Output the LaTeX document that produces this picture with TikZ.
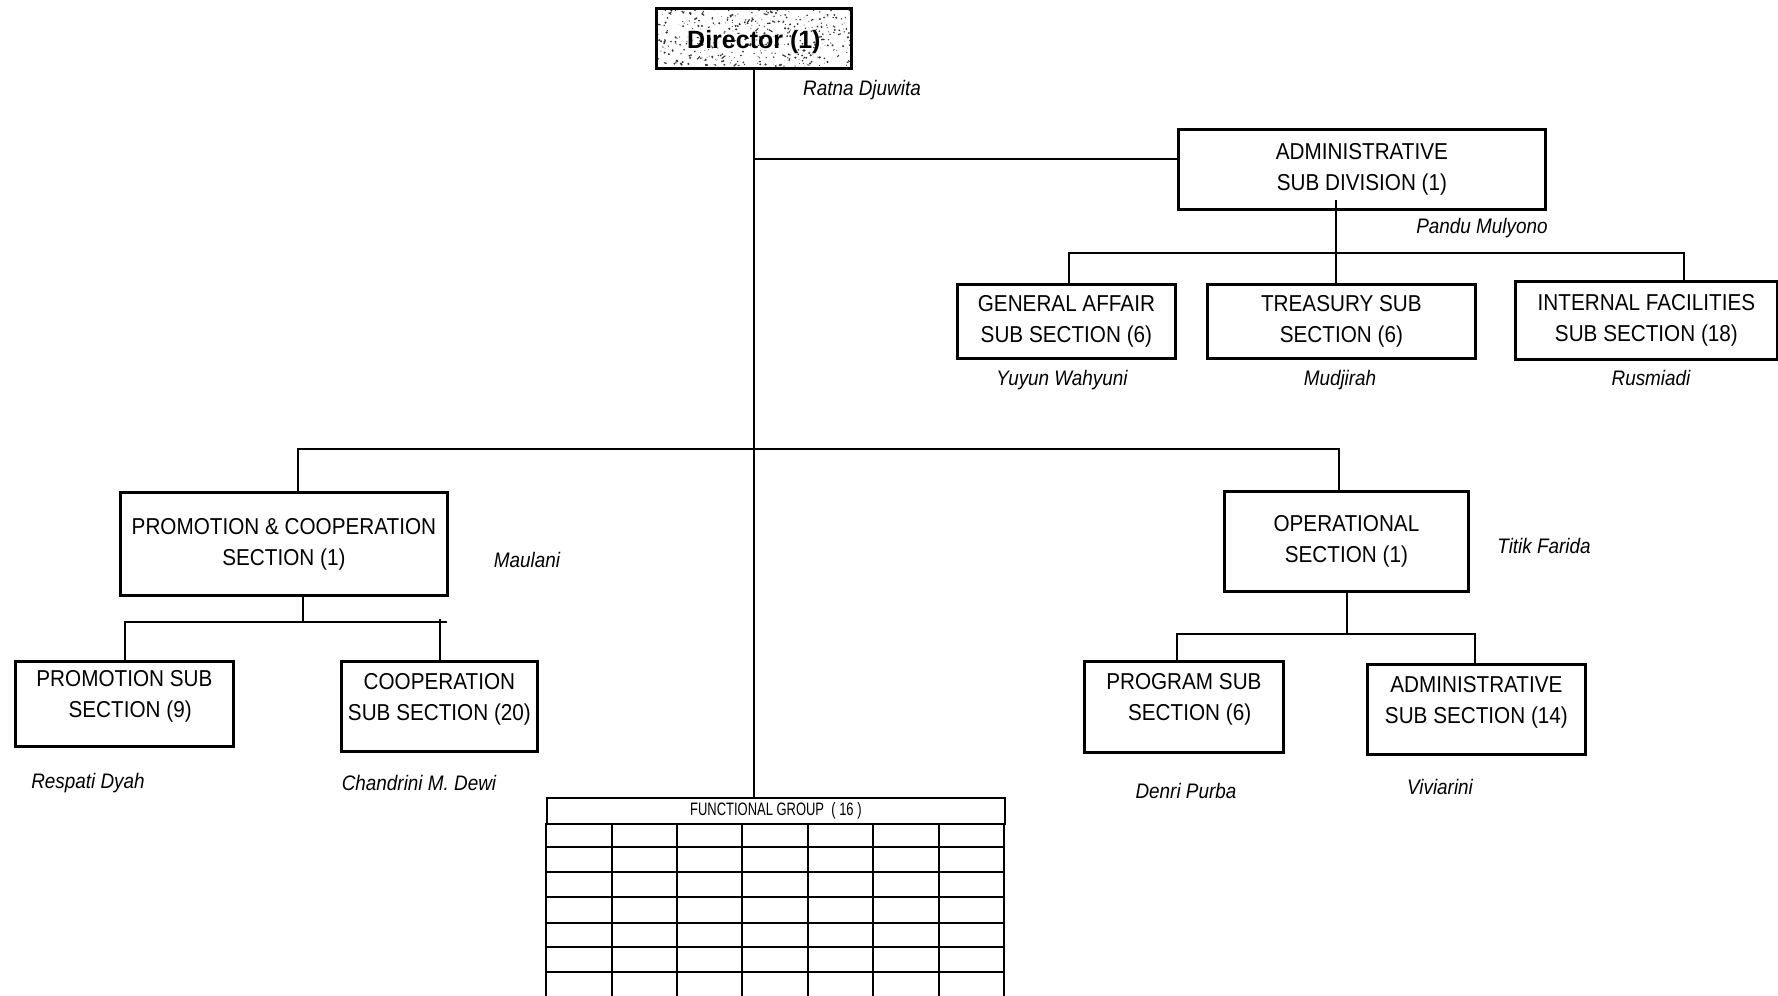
\documentclass[tikz,border=0pt]{standalone}
\usepackage{fontspec}
\setmainfont{Liberation Sans}[FakeStretch=0.9]
\newfontfamily\dirfont{Liberation Sans}
\newfontfamily\fgfont{Liberation Sans}[FakeStretch=0.72]
\usetikzlibrary{calc}
\begin{document}
\begin{tikzpicture}[x=1pt,y=-1pt,
  box/.style={draw, line width=2.8pt, anchor=north west, align=center, inner sep=1pt,
    font=\fontsize{23}{31}\selectfont},
  hibox/.style={box, text depth=19pt},
  person/.style={font=\fontsize{21}{24}\selectfont\itshape, inner sep=0pt},
  conn/.style={line width=2pt},
  grid/.style={line width=1.8pt}]
\useasboundingbox (0,0) rectangle (1778,996);
\fill[white] (0,0) rectangle (1778,996);
\clip (0,0) rectangle (1778,996);

% Director box with speckled fill
\begin{scope}
\clip (655,7) rectangle (850,67);
\pgfmathsetseed{12}
\foreach \i in {1,...,380}{
  \pgfmathsetmacro\xx{655+195*rnd}
  \pgfmathsetmacro\yy{7+60*rnd}
  \pgfmathsetmacro\rr{0.3+0.9*rnd}
  \fill[black!80] (\xx,\yy) circle (\rr);
}
\foreach \i in {1,...,40}{
  \pgfmathsetmacro\xx{655+195*rnd}
  \pgfmathsetmacro\yy{7+60*rnd}
  \pgfmathsetmacro\dx{-4+8*rnd}
  \pgfmathsetmacro\dy{-3+6*rnd}
  \draw[black!80, line width=1.1pt] (\xx,\yy) -- ++(\dx,\dy);
}
\end{scope}
\node[box, minimum width=195, minimum height=60, text height=26pt, font=\dirfont\bfseries\fontsize{25}{28}\selectfont] (dir) at (655,7) {Director (1)};
\node[person] (ratna) at (862,90) {Ratna Djuwita};

% Administrative sub division
\node[box, minimum width=367, minimum height=80] (adm) at (1177,128) {ADMINISTRATIVE\\SUB DIVISION (1)};
\node[person] (pandu) at (1482,228) {Pandu Mulyono};
\node[box, minimum width=218, minimum height=74] (ga) at (956,283) {GENERAL AFFAIR\\SUB SECTION (6)};
\node[box, minimum width=268, minimum height=74] (tr) at (1206,283) {TREASURY SUB\\SECTION (6)};
\node[box, minimum width=262, minimum height=78] (inf) at (1514,280) {INTERNAL FACILITIES\\SUB SECTION (18)};
\node[person] (yuyun) at (1062,380) {Yuyun Wahyuni};
\node[person] (mudj) at (1340,380) {Mudjirah};
\node[person] (rusm) at (1651,378) {Rusmiadi};

% Promotion & cooperation
\node[box, minimum width=327, minimum height=103] (pc) at (119,491) {PROMOTION \& COOPERATION\\SECTION (1)};
\node[person] (maul) at (527,560) {Maulani};
\node[hibox, minimum width=218, minimum height=85] (ps) at (14,660) {PROMOTION SUB\\\ \ SECTION (9)};
\node[hibox, minimum width=196, minimum height=90] (co) at (340,660) {COOPERATION\\SUB SECTION (20)};
\node[person] (resp) at (88,783) {Respati Dyah};
\node[person] (chan) at (419,783) {Chandrini M. Dewi};

% Operational
\node[box, minimum width=244, minimum height=100] (op) at (1223,490) {OPERATIONAL\\SECTION (1)};
\node[person] (titik) at (1544,546) {Titik Farida};
\node[hibox, minimum width=199, minimum height=91] (pg) at (1083,660) {PROGRAM SUB\\\ \ SECTION (6)};
\node[hibox, minimum width=218, minimum height=90] (as) at (1366,663) {ADMINISTRATIVE\\SUB SECTION (14)};
\node[person] (denri) at (1186,791) {Denri Purba};
\node[person] (vivi) at (1440,787) {Viviarini};

% Functional group table
\node[draw, grid, anchor=north west, minimum width=458, minimum height=26, inner sep=0pt,
  font=\fgfont\fontsize{18}{20}\selectfont] (fg) at (546,797) {FUNCTIONAL GROUP\ \ ( 16 )};
\foreach \yy in {847,872,897,923,947,972}{
  \draw[grid] (546,\yy) -- (1004,\yy);
}
\foreach \xx in {546,612,677,742,808,873,939,1004}{
  \draw[grid] (\xx,823) -- (\xx,1000);
}

% Connectors
\coordinate (j1) at (754,159);
\coordinate (a0) at (1336,200);
\coordinate (gab) at (1069,253);
\coordinate (infb) at (1684,253);
\coordinate (bl) at (298,449);
\coordinate (br) at (1339,449);
\coordinate (p0) at (303,622);
\coordinate (pl) at (125,622);
\coordinate (pr) at (440,619);
\coordinate (o0) at (1347,634);
\coordinate (ol) at (1177,634);
\coordinate (orr) at (1475,634);

\draw[conn] (754,67) -- (754,797);
\draw[conn] (j1) -- (j1 -| adm.west);
\draw[conn] (a0) -- (a0 |- tr.north);
\draw[conn] (gab |- ga.north) -- (gab) -- (infb) -- (infb |- inf.north);
\draw[conn] (bl |- pc.north) -- (bl) -- (br) -- (br |- op.north);
\draw[conn] (p0 |- pc.south) -- (p0);
\draw[conn] (pl |- ps.north) -- (pl) -- (447,622);
\draw[conn] (pr) -- (pr |- co.north);
\draw[conn] (o0 |- op.south) -- (o0);
\draw[conn] (ol |- pg.north) -- (ol) -- (orr) -- (orr |- as.north);
\end{tikzpicture}
\end{document}
